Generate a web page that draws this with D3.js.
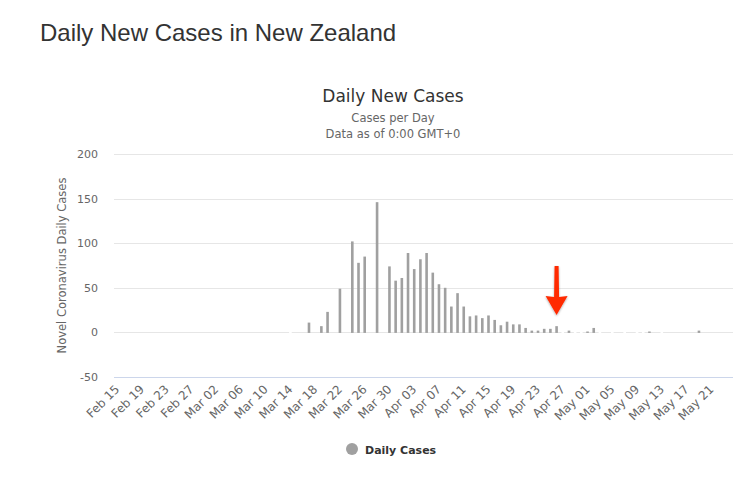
<!DOCTYPE html>
<html><head><meta charset="utf-8">
<script src="https://cdn.jsdelivr.net/npm/d3@7/dist/d3.min.js"></script>
<style>
html,body{margin:0;padding:0;background:#fff;}
svg{display:block;}
</style></head>
<body>
<svg id="chart" width="751" height="477"></svg>
<script>
// ---- data ----
const startDate = "2020-02-15";
const dayCount = 100; // Feb 15 .. May 24
const dailyCases = [
  null,null,null,null,null,null,null,null,null,null, // Feb 15-24
  null,null,null,null,null,null,null,null,null,null, // Feb 25-Mar 5
  null,null,null,null,null,null,null,null,           // Mar 6-13
  0,null,null,11,null,7,23,null,49,null,             // Mar 14-23
  102,78,85,null,146,null,74,58,                     // Mar 24-31
  61,89,71,82,89,67,54,50,29,44,                     // Apr 1-10
  29,18,19,16,19,14,8,12,9,9,                        // Apr 11-20
  5,2,2,4,4,7,0,2,0,0,                               // Apr 21-30
  1,5,0,null,0,null,0,null,0,0,                      // May 1-10
  1,null,0,null,null,null,null,null,2,null,          // May 11-20
  null,null,null,null                                // May 21-24
];
const yTicks = [-50, 0, 50, 100, 150, 200];
const tickEvery = 4;
const pageTitle = "Daily New Cases in New Zealand";
const chartTitle = "Daily New Cases";
const subtitleLines = ["Cases per Day", "Data as of 0:00 GMT+0"];
const yAxisTitle = "Novel Coronavirus Daily Cases";
const seriesName = "Daily Cases";
const arrowTarget = "Apr 26";

// ---- build ----
const fmt = d3.timeFormat("%b %d");
const t0 = d3.timeParse("%Y-%m-%d")(startDate);
const categories = d3.range(dayCount).map(i => fmt(d3.timeDay.offset(t0, i)));
const data = categories.map((c, i) => ({cat: c, v: dailyCases[i]}));

const svg = d3.select("#chart");
const hcFont = "'DejaVu Sans', 'Lucida Grande', sans-serif";
const plot = {left: 114, right: 733, top: 154, bottom: 377};

const x = d3.scaleBand().domain(categories).range([plot.left, plot.right]).paddingInner(0).paddingOuter(0);
const y = d3.scaleLinear().domain([-50, 200]).range([plot.bottom, plot.top]);

// page title
svg.append("text").attr("x", 40).attr("y", 41)
  .attr("font-family", "'Liberation Sans', Arial, Helvetica, sans-serif")
  .attr("font-size", 24).attr("fill", "#333").text(pageTitle);

// chart title
const cx = 393;
svg.append("text").attr("x", cx).attr("y", 102).attr("text-anchor", "middle")
  .attr("font-family", hcFont).attr("font-size", 17).attr("fill", "#333333").text(chartTitle);
subtitleLines.forEach((s, i) => {
  svg.append("text").attr("x", cx).attr("y", 122 + i * 15.5).attr("text-anchor", "middle")
    .attr("font-family", hcFont).attr("font-size", 11.5).attr("fill", "#666666").text(s);
});

// gridlines
const gy = svg.append("g");
gy.selectAll("line").data(yTicks.filter(t => t !== -50)).join("line")
  .attr("x1", plot.left).attr("x2", plot.right)
  .attr("y1", d => Math.round(y(d)) + 0.5).attr("y2", d => Math.round(y(d)) + 0.5)
  .attr("stroke", "#e6e6e6").attr("stroke-width", 1);

// y axis via d3.axisLeft
const yAxis = d3.axisLeft(y).tickValues(yTicks).tickSize(0).tickPadding(16).tickFormat(d => String(d));
const yg = svg.append("g").attr("transform", `translate(${plot.left},0)`).call(yAxis);
yg.select(".domain").remove();
yg.selectAll("text").attr("font-family", hcFont).attr("font-size", 11).attr("fill", "#666666");

// y axis title
svg.append("text")
  .attr("transform", `translate(66,${(plot.top + plot.bottom) / 2}) rotate(-90)`)
  .attr("text-anchor", "middle").attr("font-family", hcFont).attr("font-size", 11.5)
  .attr("fill", "#666666").text(yAxisTitle);

// x axis line at bottom (-50)
svg.append("line").attr("x1", plot.left).attr("x2", plot.right)
  .attr("y1", Math.round(y(-50)) + 0.5).attr("y2", Math.round(y(-50)) + 0.5)
  .attr("stroke", "#ccd6eb").attr("stroke-width", 1);

// x axis labels via d3.axisBottom
const xAxis = d3.axisBottom(x)
  .tickValues(categories.filter((c, i) => i % tickEvery === 0))
  .tickSize(0).tickPadding(0);
const xg = svg.append("g").attr("transform", `translate(0,${plot.bottom})`).call(xAxis);
xg.select(".domain").remove();
xg.selectAll("text")
  .attr("font-family", hcFont).attr("font-size", 12).attr("fill", "#666666")
  .attr("text-anchor", "end").attr("dy", 0)
  .attr("transform", "translate(3,13) rotate(-45)");

// bars
const barW = 2.6;
svg.append("g").selectAll("rect").data(data.filter(d => d.v !== null)).join("rect")
  .attr("x", d => x(d.cat) + x.bandwidth() / 2 - barW / 2)
  .attr("width", barW)
  .attr("y", d => d.v > 0 ? y(d.v) : y(0) - 1.5)
  .attr("height", d => d.v > 0 ? y(0) - y(d.v) + 0.5 : 3)
  .attr("fill", d => d.v > 0 ? "#a0a0a0" : "#ffffff");

// red arrow annotation
const ax = x(arrowTarget) + x.bandwidth() / 2;
const aTop = 266, aBot = 315, headTop = 297;
const defs = svg.append("defs");
const f = defs.append("filter").attr("id", "sh").attr("x", "-50%").attr("y", "-50%").attr("width", "200%").attr("height", "200%");
f.append("feDropShadow").attr("dx", 0).attr("dy", 1).attr("stdDeviation", 1.2).attr("flood-color", "#000").attr("flood-opacity", 0.35);
svg.append("path")
  .attr("d", `M${ax - 2},${aTop} L${ax + 2},${aTop} L${ax + 2.5},${headTop} L${ax + 11},${headTop - 1} L${ax},${aBot} L${ax - 11},${headTop - 1} L${ax - 2.5},${headTop} Z`)
  .attr("fill", "#ff2a00").attr("filter", "url(#sh)");

// legend
svg.append("circle").attr("cx", 352).attr("cy", 449).attr("r", 6).attr("fill", "#a0a0a0");
svg.append("text").attr("x", 365).attr("y", 453.5).attr("font-family", hcFont)
  .attr("font-size", 11).attr("font-weight", "bold").attr("fill", "#333333").text(seriesName);
</script>
</body></html>
